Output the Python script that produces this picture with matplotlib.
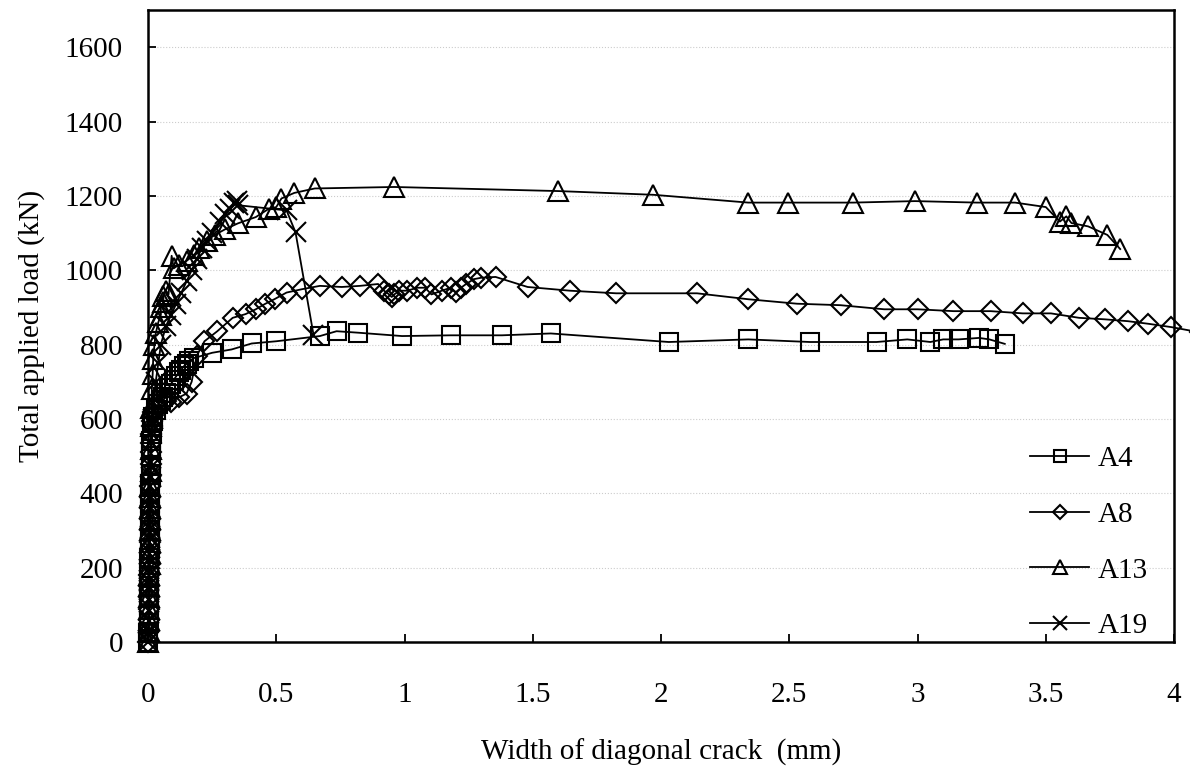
import matplotlib
matplotlib.use("Agg")
import matplotlib.pyplot as plt

plt.rcParams["font.family"] = ["Liberation Serif", "DejaVu Serif"]

# beam A4 (squares)
a4_x = [0.0, 0.001, 0.002, 0.002, 0.003, 0.003, 0.004, 0.004, 0.005, 0.005, 0.006, 0.006, 0.007,
        0.007, 0.008, 0.008, 0.009, 0.009, 0.010, 0.010, 0.011, 0.012, 0.013, 0.014, 0.016, 0.018,
        0.02, 0.03, 0.04, 0.05, 0.06, 0.07, 0.08, 0.09, 0.10, 0.11, 0.12,
        0.13, 0.14, 0.15, 0.16, 0.18, 0.25, 0.326, 0.404, 0.50, 0.67, 0.735, 0.82, 0.99, 1.18, 1.38,
        1.57, 2.03, 2.34, 2.58, 2.84, 2.96, 3.05, 3.10, 3.16, 3.24, 3.28, 3.34]
a4_y = [0, 25, 50, 75, 100, 125, 150, 175, 200, 225, 250, 275, 300,
        325, 350, 375, 400, 425, 450, 475, 500, 520, 540, 560, 580, 595,
        605, 625, 640, 650, 660, 670, 682, 695, 705, 715, 725,
        733, 742, 748, 755, 764, 778, 787, 803, 809, 823, 836, 832, 823, 825, 825,
        830, 807, 814, 807, 807, 814, 807, 814, 814, 818, 814, 802]

# beam A8 (diamonds)
a8_x = [0.0, 0.002, 0.003, 0.004, 0.004, 0.005, 0.005, 0.006, 0.006, 0.007, 0.007, 0.008, 0.008,
        0.009, 0.009, 0.010, 0.010, 0.011, 0.012, 0.013, 0.014, 0.016, 0.018,
        0.02, 0.04, 0.07, 0.09, 0.12, 0.15, 0.17, 0.19, 0.22, 0.27, 0.33, 0.38, 0.42,
        0.455, 0.495, 0.54, 0.60, 0.67, 0.755, 0.826, 0.897, 0.92, 0.94, 0.95, 0.96, 0.98, 1.01,
        1.05, 1.08, 1.105, 1.145, 1.18, 1.20, 1.22, 1.24, 1.27, 1.30, 1.355, 1.48, 1.645, 1.825,
        2.14, 2.34, 2.53, 2.70, 2.87, 3.00, 3.14, 3.285, 3.41, 3.52, 3.63, 3.73, 3.82, 3.90, 3.99,
        4.10]
a8_y = [0, 30, 60, 90, 120, 150, 180, 210, 240, 270, 300, 330, 360,
        390, 420, 450, 480, 510, 535, 560, 580, 595, 610,
        620, 635, 648, 645, 658, 668, 700, 770, 809, 836, 872, 882, 895,
        909, 923, 940, 949, 958, 955, 958, 963, 945, 935, 928, 935, 945, 945,
        953, 953, 935, 945, 953, 941, 953, 963, 976, 980, 982, 955, 945, 938,
        938, 922, 910, 906, 895, 895, 890, 890, 884, 884, 872, 868, 863, 856, 847,
        833]

# beam A13 (triangles)
a13_x = [0.0, 0.002, 0.003, 0.004, 0.004, 0.005, 0.005, 0.006, 0.006, 0.007, 0.007, 0.008, 0.008,
         0.009, 0.009, 0.010, 0.011, 0.012, 0.013, 0.015, 0.018, 0.02, 0.025, 0.03, 0.04, 0.05,
         0.05, 0.06, 0.06, 0.07, 0.08,
         0.092, 0.10, 0.12, 0.15, 0.18, 0.20, 0.23, 0.26, 0.30, 0.35, 0.42, 0.47, 0.50, 0.52, 0.57,
         0.65, 0.96, 1.60, 1.97, 2.34, 2.495, 2.75, 2.99, 3.23, 3.38, 3.50, 3.555, 3.58, 3.60, 3.665,
         3.74, 3.79]
a13_y = [0, 30, 60, 90, 120, 150, 180, 210, 240, 270, 300, 330, 360,
         390, 420, 460, 520, 580, 630, 680, 720, 760, 800, 830, 860, 880,
         900, 915, 930, 945, 935,
         1039, 1005, 1015, 1025, 1042, 1060, 1080, 1095, 1110, 1126, 1143, 1165, 1170, 1193, 1208,
         1220, 1224, 1213, 1203, 1182, 1182, 1182, 1186, 1182, 1182, 1170, 1131, 1145, 1127, 1118,
         1095, 1057]

# beam A19 (crosses)
a19_x = [0.0, 0.002, 0.003, 0.003, 0.004, 0.004, 0.005, 0.005, 0.006, 0.006, 0.007, 0.007, 0.008,
         0.008, 0.009, 0.009, 0.010,
         0.01, 0.02, 0.03, 0.04, 0.05, 0.07, 0.09, 0.11, 0.13, 0.15, 0.17, 0.19, 0.21, 0.23, 0.25,
         0.28, 0.30, 0.32, 0.335, 0.345, 0.35, 0.54, 0.575, 0.645]
a19_y = [0, 28, 56, 84, 112, 140, 168, 196, 224, 252, 280, 308, 336,
         364, 392, 420, 445,
         470, 600, 700, 750, 800, 850, 880, 910, 940, 970, 1000, 1030, 1060, 1080, 1100,
         1130, 1150, 1165, 1180, 1185, 1175, 1161, 1102, 827]

series = [
    ("A4", a4_x, a4_y, "s", 13),
    ("A8", a8_x, a8_y, "D", 10.5),
    ("A13", a13_x, a13_y, "^", 14),
    ("A19", a19_x, a19_y, "x", 14),
]

fig = plt.figure(figsize=(11.9, 7.71), dpi=100)
ax = fig.add_axes([0.1244, 0.1673, 0.8622, 0.8197])

for name, xs, ys, mk, ms in series:
    ax.plot(xs, ys, color="black", lw=1.3, marker=mk, markersize=ms,
            markerfacecolor="none", markeredgecolor="black", markeredgewidth=1.5,
            label=name, clip_on=False)

ax.set_xlim(0, 4)
ax.set_ylim(0, 1700)
ax.set_xticks([0, 0.5, 1, 1.5, 2, 2.5, 3, 3.5, 4])
ax.set_xticklabels(["0", "0.5", "1", "1.5", "2", "2.5", "3", "3.5", "4"])
ax.set_yticks(range(0, 1601, 200))
ax.tick_params(axis="x", direction="in", length=6, width=1.3, labelsize=21, pad=29)
ax.tick_params(axis="y", direction="in", length=6, width=1.3, labelsize=21, pad=18)
ax.grid(axis="y", color="#cccccc", linestyle=":", linewidth=0.8)
for s in ax.spines.values():
    s.set_linewidth(1.8)
    s.set_zorder(3)

ax.set_xlabel("Width of diagonal crack  (mm)", fontsize=21, labelpad=22)
ax.set_ylabel("Total applied load (kN)", fontsize=21, labelpad=14)

leg = ax.legend(loc="lower right", bbox_to_anchor=(1.0, -0.037), frameon=False, fontsize=21,
                markerscale=0.7, handlelength=2.0, handletextpad=0.3, labelspacing=1.0)

fig.savefig("out.png", dpi=100)
